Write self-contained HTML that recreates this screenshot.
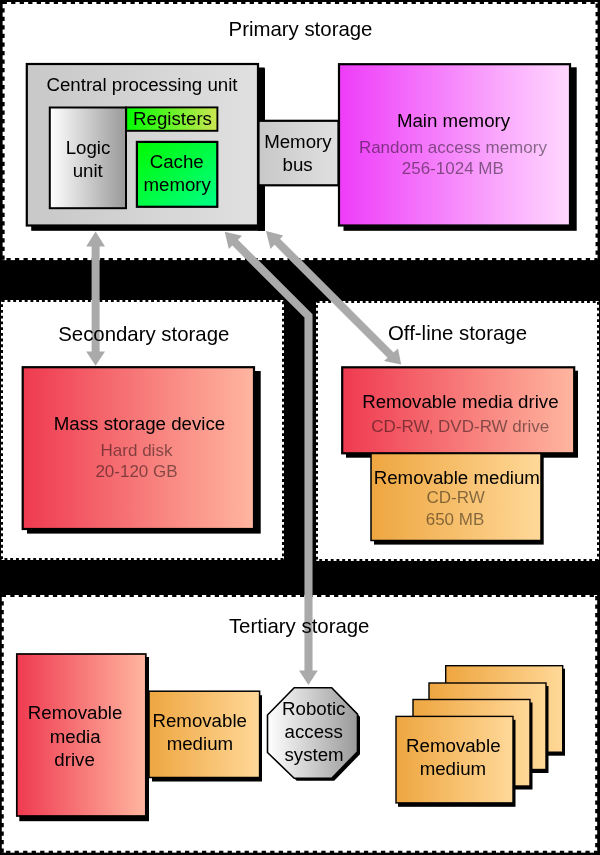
<!DOCTYPE html>
<html><head><meta charset="utf-8">
<style>
html,body{margin:0;padding:0;background:#000;width:600px;height:855px;overflow:hidden}
svg{display:block;will-change:transform}
text{font-family:"Liberation Sans",sans-serif;fill:#000}
.t{font-size:20.4px}
.l{font-size:18.7px}
.s{font-size:17px;fill-opacity:0.47}
</style></head><body>
<svg width="600" height="855" viewBox="0 0 600 855">
<defs>
<linearGradient id="gGray" x1="0" y1="0" x2="1" y2="0"><stop offset="0" stop-color="#c8c8c8"/><stop offset="1" stop-color="#e0e0e0"/></linearGradient>
<linearGradient id="gLogic" x1="0" y1="0" x2="1" y2="0"><stop offset="0" stop-color="#ffffff"/><stop offset="1" stop-color="#999999"/></linearGradient>
<linearGradient id="gReg" x1="0" y1="0" x2="1" y2="0"><stop offset="0" stop-color="#00ff00"/><stop offset="1" stop-color="#cce650"/></linearGradient>
<linearGradient id="gCache" x1="0" y1="0" x2="1" y2="1"><stop offset="0" stop-color="#00fa00"/><stop offset="1" stop-color="#00ff88"/></linearGradient>
<linearGradient id="gMag" x1="0" y1="0" x2="1" y2="0"><stop offset="0" stop-color="#ee3cf8"/><stop offset="1" stop-color="#ffd8ff"/></linearGradient>
<linearGradient id="gRed" x1="0" y1="0" x2="1" y2="0"><stop offset="0" stop-color="#ef3a50"/><stop offset="1" stop-color="#ffb6a0"/></linearGradient>
<linearGradient id="gOr" x1="0" y1="0" x2="1" y2="0"><stop offset="0" stop-color="#eea640"/><stop offset="1" stop-color="#ffd898"/></linearGradient>
<linearGradient id="gOct" x1="0" y1="0" x2="1" y2="0"><stop offset="0" stop-color="#ffffff"/><stop offset="1" stop-color="#999999"/></linearGradient>
</defs>
<rect x="0" y="0" width="600" height="855" fill="#000"/>
<!-- panels -->
<g fill="#fff" stroke="#000" stroke-width="4" stroke-dasharray="4.26 4.26">
<rect x="2.63" y="2" width="594.92" height="258.1"/>
<rect x="1.78" y="595" width="595.4" height="257.65"/>
</g>
<rect x="1" y="300" width="283" height="260" fill="#fff"/>
<rect x="316" y="301" width="283" height="260" fill="#fff"/>
<g fill="none" stroke="#000" stroke-width="4">
<path d="M0.00,300.00 L284.00,300.00" stroke-dasharray="2.8725 2.8725" stroke-dashoffset="-1.750"/>
<path d="M284.00,300.00 L284.00,560.00" stroke-dasharray="2.8635 2.8635" stroke-dashoffset="-1.500"/>
<path d="M0.00,560.00 L284.00,560.00" stroke-dasharray="2.8750 2.8750" stroke-dashoffset="-4.500"/>
<path d="M1.00,300.00 L1.00,560.00" stroke-dasharray="2.8635 2.8635" stroke-dashoffset="-4.250"/>
<path d="M316.00,301.00 L599.00,301.00" stroke-dasharray="2.8750 2.8750" stroke-dashoffset="-0.750"/>
<path d="M599.00,301.00 L599.00,561.00" stroke-dasharray="2.8600 2.8600" stroke-dashoffset="-1.000"/>
<path d="M316.00,561.00 L599.00,561.00" stroke-dasharray="2.8725 2.8725" stroke-dashoffset="-3.250"/>
<path d="M316.00,301.00 L316.00,561.00" stroke-dasharray="2.8600 2.8600" stroke-dashoffset="-4.000"/>
</g>

<!-- arrows -->
<g fill="#aaa" stroke="none">
<rect x="91.6" y="245" width="8.0" height="108"/>
<path d="M95.6,231.5 L105,246.6 L86.2,246.6 Z"/>
<path d="M95.6,365.8 L105,351.5 L86.2,351.5 Z"/>
</g>
<g fill="none" stroke="#aaa" stroke-width="8.1" stroke-linejoin="miter">
<path d="M234,241.5 L308.5,316 L308.5,672"/>
<path d="M276,240.5 L391,355.5"/>
</g>
<g fill="#aaa">
<path d="M224.7,231.7 L242,235.8 L228.8,249 Z"/>
<path d="M308.4,685 L317.8,670.5 L299,670.5 Z"/>
<path d="M266,231 L283.2,235.5 L270.5,249 Z"/>
<path d="M401.2,364.5 L398,348.5 L384,361 Z"/>
</g>

<!-- primary -->
<text class="t" x="300.50" y="36.0" text-anchor="middle">Primary storage</text>
<rect x="31.2" y="68.5" width="233.8" height="162.3" fill="#000"/>
<rect x="26.8" y="64" width="231.2" height="161.5" fill="url(#gGray)" stroke="#000" stroke-width="2.2"/>
<text class="l" x="142.00" y="91.4" text-anchor="middle">Central processing unit</text>
<rect x="49.8" y="107.5" width="76.2" height="100.7" fill="url(#gLogic)" stroke="#000" stroke-width="2"/>
<text class="l" x="88.00" y="153.50" text-anchor="middle">Logic</text>
<text class="l" x="87.70" y="176.7" text-anchor="middle">unit</text>
<rect x="126.2" y="107.4" width="91.2" height="23.4" fill="url(#gReg)" stroke="#000" stroke-width="1.9"/>
<text class="l" x="172.50" y="124.70" text-anchor="middle">Registers</text>
<rect x="136.9" y="141.9" width="80.4" height="64.9" fill="url(#gCache)" stroke="#000" stroke-width="2.2"/>
<text class="l" x="176.70" y="167.80" text-anchor="middle">Cache</text>
<text class="l" x="177.20" y="191.00" text-anchor="middle">memory</text>

<rect x="258.5" y="120.8" width="80" height="64.5" fill="url(#gGray)" stroke="#000" stroke-width="2.2"/>
<rect x="258.2" y="67.5" width="6.5" height="53" fill="#000"/>
<rect x="258.2" y="185" width="6.5" height="45.8" fill="#000"/>
<text class="l" x="297.90" y="147.90" text-anchor="middle">Memory</text>
<text class="l" x="297.60" y="170.6" text-anchor="middle">bus</text>

<rect x="343.5" y="67.3" width="233.2" height="163.5" fill="#000"/>
<rect x="339" y="64.2" width="231" height="161.3" fill="url(#gMag)" stroke="#000" stroke-width="2.2"/>
<text class="l" x="453.50" y="126.70" text-anchor="middle">Main memory</text>
<text class="s" x="452.90" y="152.70" text-anchor="middle">Random access memory</text>
<text class="s" x="452.80" y="173.90" text-anchor="middle">256-1024 MB</text>

<!-- secondary -->
<text class="t" x="143.80" y="340.80" text-anchor="middle">Secondary storage</text>
<rect x="27" y="371" width="233.7" height="162.6" fill="#000"/>
<rect x="22.7" y="367.2" width="231.3" height="161.8" fill="url(#gRed)" stroke="#000" stroke-width="2.2"/>
<text class="l" x="139.50" y="430.30" text-anchor="middle">Mass storage device</text>
<text class="s" x="136.50" y="455.70" text-anchor="middle">Hard disk</text>
<text class="s" x="136.50" y="476.8" text-anchor="middle">20-120 GB</text>

<!-- offline -->
<text class="t" x="457.50" y="339.8" text-anchor="middle">Off-line storage</text>
<rect x="346" y="370.7" width="232" height="87" fill="#000"/>
<rect x="342.2" y="367.3" width="232" height="86" fill="url(#gRed)" stroke="#000" stroke-width="2.2"/>
<text class="l" x="460.40" y="408.00" text-anchor="middle">Removable media drive</text>
<text class="s" x="460.30" y="431.60" text-anchor="middle">CD-RW, DVD-RW drive</text>
<rect x="374" y="456" width="169.7" height="88.6" fill="#000"/>
<rect x="371" y="453.5" width="170" height="87" fill="url(#gOr)" stroke="#000" stroke-width="1.5"/>
<text class="l" x="456.80" y="483.70" text-anchor="middle">Removable medium</text>
<text class="s" x="455.60" y="503" text-anchor="middle">CD-RW</text>
<text class="s" x="455.00" y="524.70" text-anchor="middle">650 MB</text>

<!-- tertiary -->
<text class="t" x="299.20" y="633.2" text-anchor="middle">Tertiary storage</text>
<rect x="19.3" y="657" width="129.7" height="164.2" fill="#000"/>
<rect x="16.8" y="654" width="129" height="162" fill="url(#gRed)" stroke="#000" stroke-width="1.7"/>
<text class="l" x="75.10" y="718.60" text-anchor="middle">Removable</text>
<text class="l" x="75.20" y="742.50" text-anchor="middle">media</text>
<text class="l" x="74.60" y="765.90" text-anchor="middle">drive</text>
<rect x="152" y="695.2" width="110" height="86.3" fill="#000"/>
<rect x="149" y="691.2" width="110.6" height="86.3" fill="url(#gOr)" stroke="#000" stroke-width="1.5"/>
<rect x="145" y="657" width="4" height="163.5" fill="#000"/>
<text class="l" x="199.70" y="726.60" text-anchor="middle">Removable</text>
<text class="l" x="199.90" y="750.00" text-anchor="middle">medium</text>

<path d="M296.7,690.3 L334.2,690.3 L360,716.7 L360,754.2 L334.2,780.8 L296.7,780.8 L270,755 L270,717.5 Z" fill="#000"/>
<path d="M294.2,687.8 L331.7,687.8 L357.5,714.2 L357.5,751.7 L331.7,778.3 L294.2,778.3 L267.5,752.5 L267.5,715 Z" fill="url(#gOct)" stroke="#000" stroke-width="1.6"/>
<text class="l" x="313.75" y="714.50" text-anchor="middle">Robotic</text>
<text class="l" x="313.65" y="738.30" text-anchor="middle">access</text>
<text class="l" x="314.05" y="761.30" text-anchor="middle">system</text>

<g stroke="#000" stroke-width="1.4" fill="url(#gOr)">
<rect x="447.5" y="668.7" width="117.5" height="87" fill="#000" stroke="none"/>
<rect x="445.7" y="665.7" width="117" height="86.5"/>
<rect x="431" y="686" width="117.5" height="87" fill="#000" stroke="none"/>
<rect x="429" y="683" width="117" height="86.5"/>
<rect x="415" y="702.5" width="117.5" height="87" fill="#000" stroke="none"/>
<rect x="413" y="699.5" width="117" height="86.5"/>
<rect x="398" y="719.8" width="117.5" height="87" fill="#000" stroke="none"/>
<rect x="396" y="716.4" width="117" height="86.5"/>
</g>
<text class="l" x="453.30" y="751.60" text-anchor="middle">Removable</text>
<text class="l" x="452.90" y="775.20" text-anchor="middle">medium</text>
</svg>
</body></html>
